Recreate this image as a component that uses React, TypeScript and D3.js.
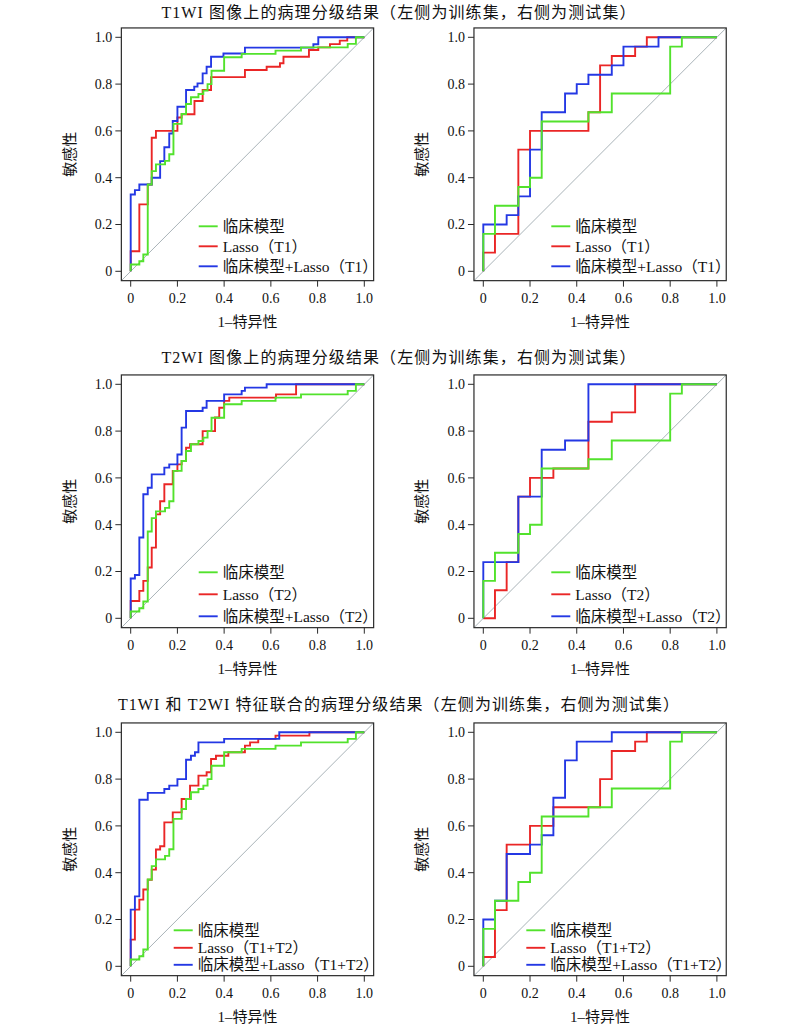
import React from "react";
import * as d3 from "d3";

type P = [number, number];

const tickValues = [0, 0.2, 0.4, 0.6, 0.8, 1.0];
const tickLabels = ["0", "0.2", "0.4", "0.6", "0.8", "1.0"];

const rowTitles = [
  "T1WI 图像上的病理分级结果（左侧为训练集，右侧为测试集）",
  "T2WI 图像上的病理分级结果（左侧为训练集，右侧为测试集）",
  "T1WI 和 T2WI 特征联合的病理分级结果（左侧为训练集，右侧为测试集）",
];
const xAxisTitle = "1–特异性";
const yAxisTitle = "敏感性";

const legendT1 = ["临床模型", "Lasso（T1）", "临床模型+Lasso（T1）"];
const legendT2 = ["临床模型", "Lasso（T2）", "临床模型+Lasso（T2）"];
const legendT1T2 = ["临床模型", "Lasso（T1+T2）", "临床模型+Lasso（T1+T2）"];

// clinical model (same in every row)
const clinicalTrain: P[] = [[0,0],[0,0.029],[0.037,0.029],[0.037,0.043],[0.054,0.043],[0.054,0.072],[0.073,0.072],[0.073,0.371],[0.09,0.371],[0.09,0.428],[0.108,0.428],[0.108,0.457],[0.147,0.457],[0.147,0.472],[0.165,0.472],[0.165,0.5],[0.183,0.5],[0.183,0.63],[0.218,0.63],[0.218,0.672],[0.237,0.672],[0.237,0.715],[0.258,0.715],[0.258,0.744],[0.29,0.744],[0.29,0.758],[0.311,0.758],[0.311,0.772],[0.329,0.772],[0.329,0.8],[0.346,0.8],[0.346,0.857],[0.4,0.857],[0.4,0.915],[0.475,0.915],[0.475,0.929],[0.62,0.929],[0.62,0.943],[0.729,0.943],[0.729,0.957],[0.929,0.957],[0.929,0.972],[0.964,0.972],[0.964,1],[1,1]];
const clinicalTest: P[] = [[0,0],[0,0.16],[0.05,0.16],[0.05,0.28],[0.15,0.28],[0.15,0.36],[0.2,0.36],[0.2,0.4],[0.25,0.4],[0.25,0.64],[0.45,0.64],[0.45,0.68],[0.55,0.68],[0.55,0.76],[0.8,0.76],[0.8,0.96],[0.85,0.96],[0.85,1],[1,1]];

// T1
const lassoT1Train: P[] = [[0,0],[0,0.086],[0.037,0.086],[0.037,0.286],[0.073,0.286],[0.073,0.371],[0.09,0.371],[0.09,0.571],[0.108,0.571],[0.108,0.6],[0.2,0.6],[0.2,0.657],[0.218,0.657],[0.218,0.671],[0.273,0.671],[0.273,0.728],[0.308,0.728],[0.308,0.775],[0.344,0.775],[0.344,0.83],[0.489,0.83],[0.489,0.86],[0.582,0.86],[0.582,0.874],[0.639,0.874],[0.639,0.889],[0.654,0.889],[0.654,0.917],[0.763,0.917],[0.763,0.946],[0.803,0.946],[0.803,0.957],[0.853,0.957],[0.853,0.971],[0.895,0.971],[0.895,0.986],[0.927,0.986],[0.927,1],[1,1]];
const combT1Train: P[] = [[0,0],[0,0.328],[0.018,0.328],[0.018,0.347],[0.037,0.347],[0.037,0.371],[0.09,0.371],[0.09,0.4],[0.126,0.4],[0.126,0.471],[0.144,0.471],[0.144,0.53],[0.165,0.53],[0.165,0.589],[0.18,0.589],[0.18,0.642],[0.2,0.642],[0.2,0.703],[0.237,0.703],[0.237,0.775],[0.272,0.775],[0.272,0.789],[0.286,0.789],[0.286,0.803],[0.308,0.803],[0.308,0.846],[0.325,0.846],[0.325,0.874],[0.344,0.874],[0.344,0.917],[0.397,0.917],[0.397,0.931],[0.489,0.931],[0.489,0.956],[0.782,0.956],[0.782,0.97],[0.803,0.97],[0.803,1],[1,1]];
const lassoT1Test: P[] = [[0,0],[0,0.08],[0.05,0.08],[0.05,0.16],[0.15,0.16],[0.15,0.52],[0.2,0.52],[0.2,0.6],[0.45,0.6],[0.45,0.68],[0.5,0.68],[0.5,0.88],[0.55,0.88],[0.55,0.92],[0.65,0.92],[0.65,0.96],[0.7,0.96],[0.7,1],[1,1]];
const combT1Test: P[] = [[0,0],[0,0.2],[0.1,0.2],[0.1,0.24],[0.15,0.24],[0.15,0.32],[0.2,0.32],[0.2,0.52],[0.25,0.52],[0.25,0.68],[0.35,0.68],[0.35,0.76],[0.4,0.76],[0.4,0.8],[0.45,0.8],[0.45,0.84],[0.55,0.84],[0.55,0.88],[0.6,0.88],[0.6,0.96],[0.75,0.96],[0.75,1],[1,1]];

// T2
const lassoT2Train: P[] = [[0,0],[0,0.074],[0.037,0.074],[0.037,0.117],[0.054,0.117],[0.054,0.16],[0.073,0.16],[0.073,0.217],[0.09,0.217],[0.09,0.302],[0.108,0.302],[0.108,0.444],[0.126,0.444],[0.126,0.5],[0.144,0.5],[0.144,0.573],[0.18,0.573],[0.18,0.63],[0.2,0.63],[0.2,0.658],[0.218,0.658],[0.218,0.672],[0.237,0.672],[0.237,0.729],[0.254,0.729],[0.254,0.744],[0.308,0.744],[0.308,0.8],[0.361,0.8],[0.361,0.858],[0.379,0.858],[0.379,0.9],[0.4,0.9],[0.4,0.929],[0.422,0.929],[0.422,0.943],[0.622,0.943],[0.622,0.957],[0.708,0.957],[0.708,1],[1,1]];
const combT2Train: P[] = [[0,0],[0,0.17],[0.018,0.17],[0.018,0.185],[0.037,0.185],[0.037,0.345],[0.054,0.345],[0.054,0.53],[0.073,0.53],[0.073,0.558],[0.09,0.558],[0.09,0.615],[0.144,0.615],[0.144,0.644],[0.165,0.644],[0.165,0.658],[0.2,0.658],[0.2,0.7],[0.218,0.7],[0.218,0.815],[0.237,0.815],[0.237,0.886],[0.308,0.886],[0.308,0.9],[0.325,0.9],[0.325,0.929],[0.4,0.929],[0.4,0.957],[0.475,0.957],[0.475,0.972],[0.489,0.972],[0.489,0.986],[0.582,0.986],[0.582,1],[1,1]];
const lassoT2Test: P[] = [[0,0],[0.05,0],[0.05,0.12],[0.1,0.12],[0.1,0.24],[0.15,0.24],[0.15,0.52],[0.2,0.52],[0.2,0.6],[0.3,0.6],[0.3,0.64],[0.45,0.64],[0.45,0.84],[0.55,0.84],[0.55,0.88],[0.65,0.88],[0.65,1],[1,1]];
const combT2Test: P[] = [[0,0],[0,0.24],[0.15,0.24],[0.15,0.52],[0.25,0.52],[0.25,0.72],[0.35,0.72],[0.35,0.76],[0.45,0.76],[0.45,1],[1,1]];

// T1 + T2
const lassoT1T2Train: P[] = [[0,0],[0,0.114],[0.018,0.114],[0.018,0.242],[0.037,0.242],[0.037,0.285],[0.054,0.285],[0.054,0.328],[0.073,0.328],[0.073,0.37],[0.09,0.37],[0.09,0.413],[0.108,0.413],[0.108,0.499],[0.126,0.499],[0.126,0.513],[0.144,0.513],[0.144,0.615],[0.18,0.615],[0.18,0.658],[0.218,0.658],[0.218,0.715],[0.254,0.715],[0.254,0.772],[0.29,0.772],[0.29,0.815],[0.325,0.815],[0.325,0.829],[0.344,0.829],[0.344,0.886],[0.365,0.886],[0.365,0.9],[0.418,0.9],[0.418,0.915],[0.489,0.915],[0.489,0.943],[0.511,0.943],[0.511,0.957],[0.546,0.957],[0.546,0.972],[0.62,0.972],[0.62,0.986],[0.765,0.986],[0.765,1],[1,1]];
const combT1T2Train: P[] = [[0,0],[0,0.242],[0.018,0.242],[0.018,0.299],[0.037,0.299],[0.037,0.712],[0.073,0.712],[0.073,0.741],[0.144,0.741],[0.144,0.758],[0.165,0.758],[0.165,0.772],[0.2,0.772],[0.2,0.8],[0.237,0.8],[0.237,0.883],[0.258,0.883],[0.258,0.9],[0.275,0.9],[0.275,0.915],[0.29,0.915],[0.29,0.957],[0.4,0.957],[0.4,0.972],[0.636,0.972],[0.636,1],[1,1]];
const lassoT1T2Test: P[] = [[0,0],[0,0.04],[0.05,0.04],[0.05,0.24],[0.1,0.24],[0.1,0.52],[0.2,0.52],[0.2,0.6],[0.3,0.6],[0.3,0.68],[0.5,0.68],[0.5,0.8],[0.55,0.8],[0.55,0.92],[0.65,0.92],[0.65,0.96],[0.7,0.96],[0.7,1],[1,1]];
const combT1T2Test: P[] = [[0,0],[0,0.2],[0.05,0.2],[0.05,0.28],[0.1,0.28],[0.1,0.48],[0.2,0.48],[0.2,0.52],[0.25,0.52],[0.25,0.56],[0.3,0.56],[0.3,0.72],[0.35,0.72],[0.35,0.88],[0.4,0.88],[0.4,0.96],[0.55,0.96],[0.55,1],[1,1]];

const COLORS = { clinical: "#52e22c", lasso: "#ea2626", comb: "#2438e4" };

const colX0 = [130.7, 483.3];
const rowY0 = [271.3, 618.3, 966.3];
const PW = 233.6;
const PH = 234;
const titleY = [12, 357, 704];
const legendLayout = [
  { lx: 68, dys: [-45, -25, -5] },
  { lx: 68, dys: [-46, -24, -2] },
  { lx: 43, dys: [-36, -18.5, -1.5] },
];

const rows = [
  { legend: legendT1, train: [lassoT1Train, combT1Train], test: [lassoT1Test, combT1Test] },
  { legend: legendT2, train: [lassoT2Train, combT2Train], test: [lassoT2Test, combT2Test] },
  { legend: legendT1T2, train: [lassoT1T2Train, combT1T2Train], test: [lassoT1T2Test, combT1T2Test] },
];

const FONT = "'Liberation Serif','Noto Sans CJK SC',serif";

function Panel({ x0, y0, clinical, lasso, comb, legend, lay, id }: any) {
  const x = d3.scaleLinear().domain([0, 1]).range([x0, x0 + PW]);
  const y = d3.scaleLinear().domain([0, 1]).range([y0, y0 - PH]);
  const line = d3.line<P>().x((d) => x(d[0])).y((d) => y(d[1]));
  const bx0 = x(-0.04), bx1 = x(1.04), by0 = y(-0.04), by1 = y(1.04);
  const clipId = "clip" + id;
  const series = [
    { d: lasso, c: COLORS.lasso },
    { d: comb, c: COLORS.comb },
    { d: clinical, c: COLORS.clinical },
  ];
  const legendColors = [COLORS.clinical, COLORS.lasso, COLORS.comb];
  return (
    <g>
      <defs>
        <clipPath id={clipId}>
          <rect x={bx0} y={by1} width={bx1 - bx0} height={by0 - by1} />
        </clipPath>
      </defs>
      <g clipPath={`url(#${clipId})`}>
        <line x1={x(-0.04)} y1={y(-0.04)} x2={x(1.04)} y2={y(1.04)} stroke="#a9b3b8" strokeWidth={1} />
        {series.map((s, i) => (
          <path key={i} d={line(s.d) || ""} fill="none" stroke={s.c} strokeWidth={1.9} strokeLinejoin="miter" />
        ))}
      </g>
      <rect x={bx0} y={by1} width={bx1 - bx0} height={by0 - by1} fill="none" stroke="#2a2a2a" strokeWidth={1.2} />
      {tickValues.map((v, i) => (
        <g key={"xt" + i}>
          <line x1={x(v)} x2={x(v)} y1={by0} y2={by0 + 6} stroke="#2a2a2a" strokeWidth={1} />
          <text x={x(v)} y={by0 + 17} textAnchor="middle" dy="0.35em" fontSize={14} fill="#111">{tickLabels[i]}</text>
        </g>
      ))}
      {tickValues.map((v, i) => (
        <g key={"yt" + i}>
          <line x1={bx0} x2={bx0 - 6} y1={y(v)} y2={y(v)} stroke="#2a2a2a" strokeWidth={1} />
          <text x={bx0 - 9} y={y(v)} textAnchor="end" dy="0.35em" fontSize={14} fill="#111">{tickLabels[i]}</text>
        </g>
      ))}
      <text x={(x(0) + x(1)) / 2} y={by0 + 41} textAnchor="middle" dy="0.35em" fontSize={15} fill="#111">{xAxisTitle}</text>
      <text transform={`translate(${bx0 - 52},${(y(0) + y(1)) / 2}) rotate(-90)`} textAnchor="middle" dy="0.35em" fontSize={15} fill="#111">{yAxisTitle}</text>
      {legend.map((t: string, i: number) => (
        <g key={"lg" + i}>
          <line x1={x0 + lay.lx} x2={x0 + lay.lx + 19} y1={y0 + lay.dys[i]} y2={y0 + lay.dys[i]} stroke={legendColors[i]} strokeWidth={1.9} />
          <text x={x0 + lay.lx + 24} y={y0 + lay.dys[i]} dy="0.35em" fontSize={15.5} fill="#111">{t}</text>
        </g>
      ))}
    </g>
  );
}

export default function App() {
  return (
    <svg width={794} height={1028} style={{ position: "absolute", left: 0, top: 0, background: "#fff" }} fontFamily={FONT}>
      {rows.map((r, ri) => (
        <g key={ri}>
          <text x={399} y={titleY[ri]} textAnchor="middle" dy="0.35em" fontSize={16} letterSpacing={1.1} fill="#111">{rowTitles[ri]}</text>
          <Panel id={`${ri}a`} x0={colX0[0]} y0={rowY0[ri]} clinical={clinicalTrain} lasso={r.train[0]} comb={r.train[1]} legend={r.legend} lay={legendLayout[ri]} />
          <Panel id={`${ri}b`} x0={colX0[1]} y0={rowY0[ri]} clinical={clinicalTest} lasso={r.test[0]} comb={r.test[1]} legend={r.legend} lay={legendLayout[ri]} />
        </g>
      ))}
    </svg>
  );
}
